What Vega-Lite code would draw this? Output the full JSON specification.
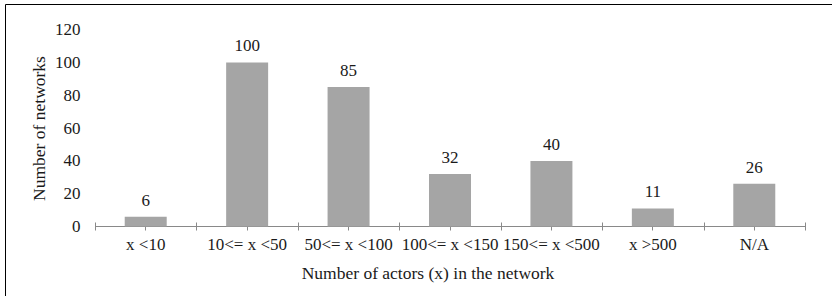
{
  "$schema": "https://vega.github.io/schema/vega-lite/v6.json",
  "autosize": "none",
  "width": 832,
  "height": 297,
  "padding": {"left": 5, "top": 4, "right": -5, "bottom": -5},
  "background": "white",
  "config": {
    "view": {"stroke": "black", "strokeWidth": 1},
    "font": "Liberation Serif",
    "text": {"font": "Liberation Serif"},
    "axis": {"labelFont": "Liberation Serif", "titleFont": "Liberation Serif", "labelColor": "#1a1a1a", "titleColor": "#1a1a1a", "titleFontWeight": "normal", "grid": false}
  },
  "data": {
    "values": [
      {"cat": "x <10", "n": 6},
      {"cat": "10<= x <50", "n": 100},
      {"cat": "50<= x <100", "n": 85},
      {"cat": "100<= x <150", "n": 32},
      {"cat": "150<= x <500", "n": 40},
      {"cat": "x >500", "n": 11},
      {"cat": "N/A", "n": 26}
    ]
  },
  "encoding": {
    "x": {"field": "cat", "type": "nominal", "sort": null,
      "scale": {"type": "band", "range": [90, 800], "paddingInner": 0, "paddingOuter": 0}},
    "y": {"field": "n", "type": "quantitative",
      "scale": {"domain": [-45.43, 135.67], "nice": false, "zero": false}}
  },
  "layer": [
    {
      "mark": {"type": "bar", "width": {"band": 0.414}, "color": "#a5a5a5"},
      "encoding": {
        "x": {"field": "cat", "type": "nominal", "sort": null,
          "axis": {"orient": "bottom", "offset": -75, "domainColor": "#898989", "domainWidth": 1,
            "tickColor": "#898989", "tickSize": 4, "tickBand": "center",
            "labelAngle": 0, "labelFont": "Liberation Serif", "labelFontSize": 17, "labelPadding": 6, "labelBaseline": "top",
            "title": "Number of actors (x) in the network", "titleFont": "Liberation Serif", "titleFontSize": 17.5,
            "titleX": 422.5, "titleY": 52.5, "titleBaseline": "alphabetic", "titleAlign": "center", "titleAnchor": null}},
        "y": {"field": "n", "type": "quantitative",
          "axis": {"values": [0, 20, 40, 60, 80, 100, 120], "offset": -75, "domain": false, "ticks": false, "tickSize": 0,
            "labelPadding": 0, "labelFont": "Liberation Serif", "labelFontSize": 17, "labelAlign": "right", "labelBaseline": "middle",
            "title": "Number of networks", "titleFont": "Liberation Serif", "titleFontSize": 17.5, "titleAngle": -90,
            "titleX": -35.5, "titleY": 124, "titleBaseline": "alphabetic", "titleAlign": "center", "titleAnchor": null}}
      }
    },
    {
      "mark": {"type": "text", "baseline": "alphabetic", "dy": -11, "fontSize": 17, "color": "#1a1a1a", "font": "Liberation Serif"},
      "encoding": {
        "x": {"field": "cat", "type": "nominal", "sort": null,
          "axis": {"orient": "bottom", "offset": -79, "domain": false, "labels": false, "title": null,
            "tickColor": "#898989", "tickSize": 8, "tickBand": "extent"}},
        "y": {"field": "n", "type": "quantitative"},
        "text": {"field": "n", "type": "quantitative"}
      }
    }
  ],
  "resolve": {"axis": {"x": "independent"}}
}
